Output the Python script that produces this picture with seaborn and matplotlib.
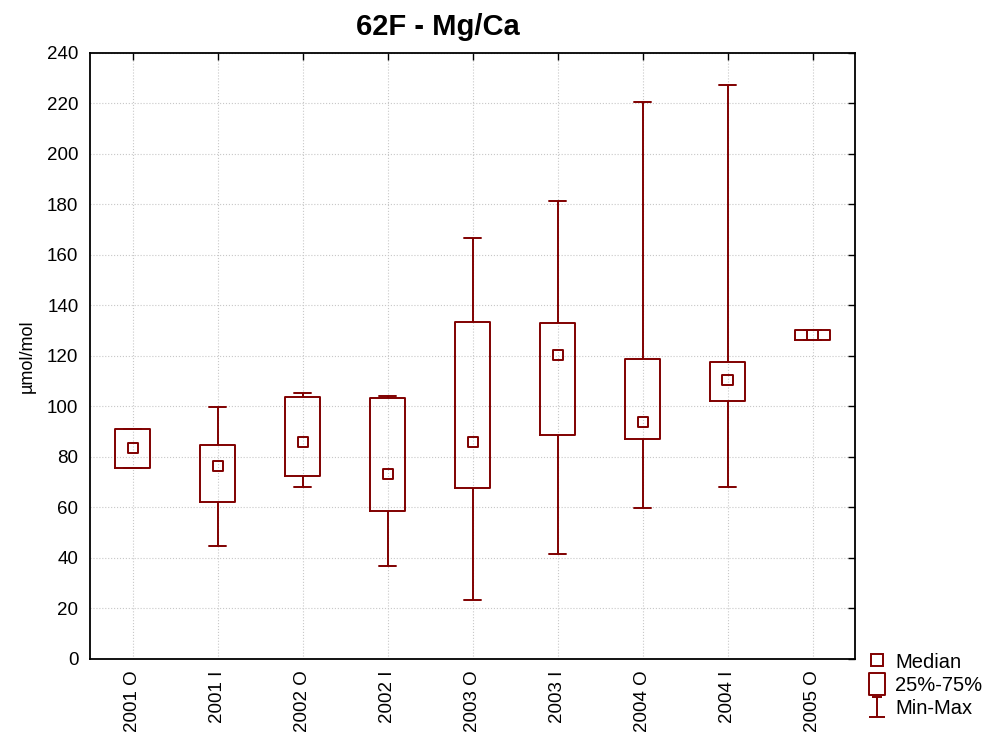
import numpy as np
import pandas as pd
import seaborn as sns
import matplotlib.pyplot as plt
from matplotlib.lines import Line2D
from matplotlib.path import Path

# summary values (µmol/mol)
groups = ["2001 O", "2001 I", "2002 O", "2002 I", "2003 O",
          "2003 I", "2004 O", "2004 I", "2005 O"]
mins = [75.6, 44.8, 68.1, 36.8, 23.4, 41.6, 59.8, 68.1, 126.3]
q1s = [75.6, 62.2, 72.5, 58.6, 67.7, 88.7, 87.1, 102.2, 126.3]
medians = [83.6, 76.4, 85.9, 73.3, 85.9, 120.4, 93.9, 110.5, 128.3]
q3s = [91.1, 84.8, 103.8, 103.4, 133.5, 133.1, 118.8, 117.6, 130.3]
maxs = [91.1, 99.8, 105.3, 104.2, 166.7, 181.4, 220.6, 227.3, 130.3]

COLOR = "#800000"

# five points per group -> quartiles land exactly on q1/q3, whiskers on min/max
rows = []
for g, a, b, c, d, e in zip(groups, mins, q1s, medians, q3s, maxs):
    for v in (a, b, c, d, e):
        rows.append({"group": g, "value": v})
df = pd.DataFrame(rows)
med_df = pd.DataFrame({"group": groups, "median": medians})

sns.set_style("white")
plt.rcParams["font.family"] = ["Liberation Sans", "DejaVu Sans"]
plt.rcParams["text.color"] = "black"
plt.rcParams["axes.labelcolor"] = "black"

fig, ax = plt.subplots(figsize=(9.92, 7.42), dpi=100)
fig.subplots_adjust(left=0.091, right=0.862, top=0.929, bottom=0.112)

lw = 1.4
sns.boxplot(data=df, x="group", y="value", order=groups, whis=np.inf,
            width=0.41, fill=False, color=COLOR, linewidth=lw,
            medianprops={"visible": False}, ax=ax)
sns.scatterplot(data=med_df, x="group", y="median", marker="s", s=55,
                facecolor="none", edgecolor=COLOR, linewidth=lw, ax=ax,
                zorder=5)

ax.set_xlim(-0.5, len(groups) - 0.5)
ax.set_ylim(0, 240)
ax.set_yticks(np.arange(0, 241, 20))
ax.grid(True, color="#c8c8c8", linestyle=":", linewidth=0.8)
ax.set_axisbelow(True)
for sp in ax.spines.values():
    sp.set_color("black")
    sp.set_linewidth(1.3)

ax.tick_params(axis="both", which="both", direction="out", length=5,
               width=1, labelsize=13.5, colors="black")
ax.tick_params(axis="x", labelrotation=90)
ax.tick_params(axis="both", top=True, right=True)
# top/right ticks point inward
for t in ax.xaxis.get_major_ticks():
    t.tick2line.set_marker(3)
for t in ax.yaxis.get_major_ticks():
    t.tick2line.set_marker(0)

ax.set_xlabel("")
ax.set_ylabel("µmol/mol", fontsize=13, labelpad=8)
ax.set_title("62F - Mg/Ca", fontsize=21, fontweight="bold", pad=13, x=0.454)

# legend with Statistica-like symbols
rect = Path([(-0.7, -1), (0.7, -1), (0.7, 1), (-0.7, 1), (-0.7, -1)],
            [Path.MOVETO, Path.LINETO, Path.LINETO, Path.LINETO, Path.CLOSEPOLY])
whisk = Path([(-0.45, 1), (0.45, 1), (0, 1), (0, -1), (-0.8, -1), (0.8, -1)],
             [Path.MOVETO, Path.LINETO, Path.MOVETO, Path.LINETO,
              Path.MOVETO, Path.LINETO])
handles = [
    Line2D([], [], linestyle="none", marker="s", markersize=8,
           markerfacecolor="none", markeredgecolor=COLOR, markeredgewidth=lw),
    Line2D([], [], linestyle="none", marker=rect, markersize=16,
           markerfacecolor="none", markeredgecolor=COLOR, markeredgewidth=lw),
    Line2D([], [], linestyle="none", marker=whisk, markersize=15,
           markerfacecolor="none", markeredgecolor=COLOR, markeredgewidth=lw),
]
fig.legend(handles, ["Median", "25%-75%", "Min-Max"], loc="lower left",
           bbox_to_anchor=(0.867, 0.021), frameon=False, fontsize=14.5,
           handlelength=0.9, handletextpad=0.45, labelspacing=0.22,
           borderaxespad=0)

fig.savefig("out.png", dpi=100)
